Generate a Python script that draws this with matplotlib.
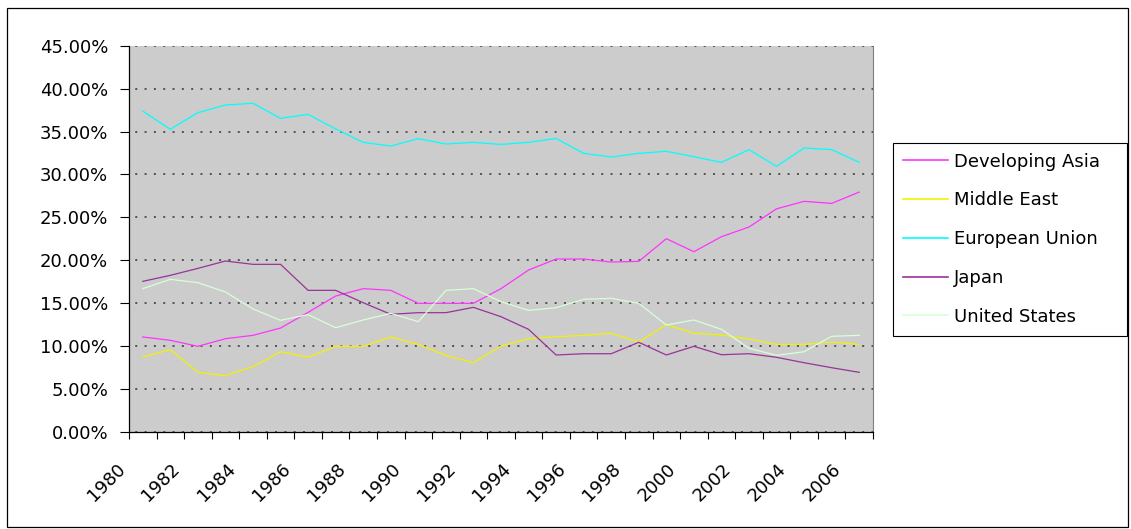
import numpy as np
import matplotlib
matplotlib.use("Agg")
import matplotlib.pyplot as plt
from matplotlib.ticker import PercentFormatter
from matplotlib.transforms import ScaledTranslation
from matplotlib.patches import Rectangle

# share of world exports (%)
years = list(range(1980, 2007))
developing_asia = [11.07, 10.68, 9.98, 10.87, 11.26, 12.11, 13.94, 15.84, 16.70, 16.50,
                   14.99, 14.99, 14.99, 16.70, 18.87, 20.15, 20.15, 19.80, 19.88, 22.52,
                   21.00, 22.75, 23.88, 26.00, 26.87, 26.63, 27.95]
middle_east = [8.74, 9.59, 6.95, 6.56, 7.61, 9.35, 8.70, 9.98, 9.98, 11.07,
               10.21, 8.93, 8.07, 10.02, 10.87, 11.10, 11.26, 11.50, 10.48, 12.50,
               11.50, 11.30, 10.83, 10.21, 10.21, 10.48, 10.21]
european_union = [37.39, 35.26, 37.20, 38.09, 38.29, 36.54, 37.00, 35.30, 33.74, 33.31,
                  34.17, 33.55, 33.74, 33.50, 33.74, 34.20, 32.46, 32.03, 32.46, 32.70,
                  32.07, 31.41, 32.89, 30.95, 33.08, 32.89, 31.41]
japan = [17.55, 18.25, 19.06, 19.92, 19.53, 19.53, 16.50, 16.50, 15.06, 13.71,
         13.90, 13.90, 14.52, 13.43, 11.96, 8.97, 9.12, 9.12, 10.45, 8.97,
         9.98, 9.00, 9.12, 8.70, 8.07, 7.49, 6.95]
united_states = [16.70, 17.78, 17.40, 16.31, 14.33, 13.01, 13.67, 12.15, 13.05, 13.82,
                 12.85, 16.50, 16.70, 15.18, 14.17, 14.48, 15.46, 15.57, 14.99, 12.46,
                 13.05, 11.96, 9.75, 8.93, 9.35, 11.15, 11.26]

series = [
    ("Developing Asia", developing_asia, "#FF33FF"),
    ("Middle East", middle_east, "#F2F200"),
    ("European Union", european_union, "#00FFFF"),
    ("Japan", japan, "#993399"),
    ("United States", united_states, "#D8FFD8"),
]

plt.rcParams["font.family"] = ["DejaVu Sans"]
FS = 13

W, H = 1131, 529
fig = plt.figure(figsize=(W / 100, H / 100), dpi=100)

# plot area in pixel coords
left, right, top, bottom = 129, 873, 45.7, 432
ax = fig.add_axes([left / W, 1 - bottom / H, (right - left) / W, (bottom - top) / H])
ax.set_facecolor("#CCCCCC")

x = np.arange(len(years))
for name, vals, col in series:
    ax.plot(x, vals, color=col, lw=0.9, label=name, zorder=3)

ax.set_xlim(-0.5, len(years) - 0.5)
ax.set_ylim(0, 45)

# y axis
ax.set_yticks(np.arange(0, 46, 5))
ax.yaxis.set_major_formatter(PercentFormatter(xmax=100, decimals=2))
ax.tick_params(axis="y", direction="out", length=6.5, width=0.8, pad=8.5, labelsize=FS)
ax.grid(axis="y", color="#333333", lw=1.1, linestyle=(2, (1.3, 4.8)), zorder=1)

# x axis: tick marks between categories, labels on every other year
ax.set_xticks(np.arange(-0.5, len(years), 1))
ax.set_xticklabels([])
ax.tick_params(axis="x", which="major", direction="out", length=5, width=0.8)
lab_idx = list(range(0, len(years), 2))
ax.set_xticks(lab_idx, [str(years[i]) for i in lab_idx], minor=True)
ax.tick_params(axis="x", which="minor", length=0, pad=20, labelsize=FS)
shift = ScaledTranslation(-27 / 100, 0, fig.dpi_scale_trans)
for lbl in ax.get_xticklabels(minor=True):
    lbl.set_rotation(45)
    lbl.set_ha("right")
    lbl.set_va("top")
    lbl.set_rotation_mode("anchor")
    lbl.set_transform(lbl.get_transform() + shift)

for s in ["left", "bottom"]:
    ax.spines[s].set_color("black")
    ax.spines[s].set_linewidth(0.9)
ax.spines["top"].set_visible(False)
ax.spines["right"].set_color("#808080")
ax.spines["right"].set_linewidth(0.8)

# legend box
leg = fig.legend(loc="upper left",
                 bbox_to_anchor=(893 / W, 1 - 142.7 / H, (1127 - 893) / W, 0),
                 mode="expand", borderaxespad=0, fontsize=FS, frameon=True,
                 fancybox=False, edgecolor="black", framealpha=1,
                 handlelength=2.5, handletextpad=0.35, labelspacing=1.15,
                 borderpad=0.55)
leg.get_frame().set_linewidth(0.8)
for ln in leg.get_lines():
    ln.set_linewidth(1.2)

# chart area border
fig.add_artist(Rectangle((7 / W, 1 - 527 / H), (1128 - 7) / W, (527 - 8) / H,
                         transform=fig.transFigure, fill=False, edgecolor="black",
                         lw=0.9))

fig.savefig("out.png", dpi=100)
